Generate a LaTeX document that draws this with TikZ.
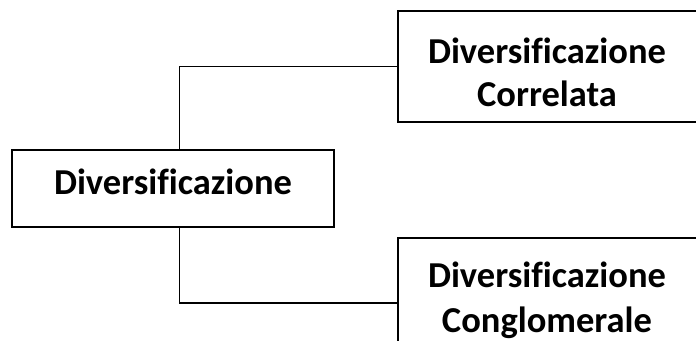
\documentclass[tikz,border=0pt]{standalone}
\usepackage{fontspec}
\setmainfont[Ligatures=NoCommon]{Carlito}
\begin{document}
\begin{tikzpicture}[x=1pt,y=1pt,
  box/.style={draw=black, line width=2pt, fill=white, inner sep=0pt, rectangle},
  lbl/.style={font=\fontsize{36.5}{43}\selectfont\bfseries, inner sep=0pt, anchor=base},
  link/.style={draw=black, line width=1.8pt}]
  \useasboundingbox (0,0) rectangle (696,340);
  \clip (0,0) rectangle (696,340);
  \fill[white] (0,0) rectangle (696,340);

  % boxes
  \node[box, minimum width=322pt, minimum height=77pt] (div) at (173,151.5) {};
  \node[box, minimum width=310pt, minimum height=111pt, anchor=west] (corr) at (397,273.5) {};
  \node[box, minimum width=310pt, minimum height=130pt, anchor=west] (cong) at (397,37) {};

  % labels
  \node[lbl] (divtxt) at (173,145) {Diversificazione};
  \node[lbl] (corrtxt1) at (547,276) {Diversificazione};
  \node[lbl] (corrtxt2) at (547,233) {Correlata};
  \node[lbl] (congtxt1) at (547,52) {Diversificazione};
  \node[lbl] (congtxt2) at (547,8) {Conglomerale};

  % elbow connectors
  \coordinate (trunk) at (179.5,0);
  \draw[link] (div.north -| trunk) |- (corr.west);
  \draw[link] (div.south -| trunk) |- (cong.west);
\end{tikzpicture}
\end{document}
